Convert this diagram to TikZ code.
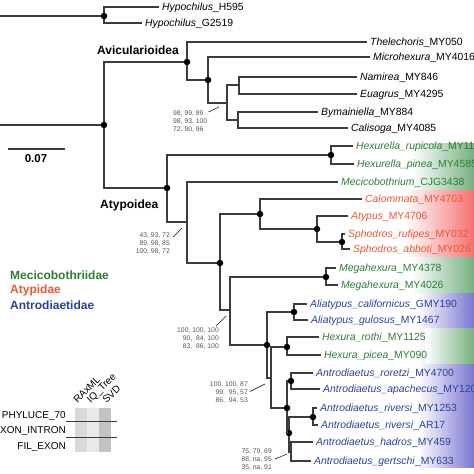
\documentclass[tikz,border=0pt]{standalone}
\usepackage{fontspec}
\setmainfont{Liberation Sans}
\usepackage{tikz}
\usetikzlibrary{positioning}
\definecolor{linegray}{RGB}{60,60,60}
\definecolor{supgray}{RGB}{85,85,85}
\definecolor{mecgreen}{RGB}{45,125,55}
\definecolor{atyred}{RGB}{232,88,52}
\definecolor{antblue}{RGB}{40,65,155}
\definecolor{bandgreen}{RGB}{118,176,128}
\definecolor{bandred}{RGB}{246,112,112}
\definecolor{bandblue}{RGB}{122,118,208}
\newcommand{\taxon}[2]{\textit{#1}\_#2}

\tikzset{
	branch/.style={draw=linegray, line width=1.1pt},
	pointer/.style={draw=linegray, line width=0.7pt},
	supnode/.style={circle, fill=black, inner sep=0pt, minimum size=6.5pt},
	leaf/.style={anchor=west, inner xsep=3pt, inner ysep=0pt, text height=7.4pt, text depth=0pt, font=\fontsize{10.4}{12}\selectfont},
	leafG/.style={leaf, text=mecgreen},
	leafR/.style={leaf, text=atyred},
	leafB/.style={leaf, text=antblue},
	support/.style={align=right, anchor=north east, inner sep=0pt, text=supgray, font=\fontsize{6.8}{8}\selectfont},
	clade/.style={anchor=west, inner sep=0pt, text height=8.6pt, text depth=0pt, font=\fontsize{12}{14}\selectfont\bfseries},
	band/.style={left color=white, right color=#1},
	dataset/.style={anchor=east, inner sep=0pt, text height=7.2pt, text depth=0pt, font=\fontsize{10}{12}\selectfont},
	method/.style={rotate=45, anchor=west, inner sep=0pt, font=\fontsize{10}{12}\selectfont},
}

\begin{document}
\begin{tikzpicture}[x=1pt, y=-1pt]
	\useasboundingbox (0,0) rectangle (474,474);

	\shade[band=bandgreen] (412,143) rectangle (474,190);
	\shade[band=bandred] (405,190) rectangle (474,257);
	\shade[band=bandgreen] (412,257) rectangle (474,293);
	\shade[band=bandblue] (418,293) rectangle (474,467);
	\shade[band=bandgreen] (425,328) rectangle (474,363);

	\coordinate (rootA) at (0,16);
	\coordinate (rootB) at (0,125);
	\node[supnode] (nHyp) at (104,16) {};
	\node[supnode] (nMain) at (104,125) {};
	\node[supnode] (nAvic) at (187,62) {};
	\node[supnode] (nMic) at (208,80) {};
	\coordinate (nNE) at (227,103);
	\coordinate (nNam) at (239,85);
	\coordinate (nByCa) at (238,120);
	\node[supnode] (nAty) at (167,188) {};
	\node[supnode] (nHexl) at (331,155) {};
	\coordinate (nMec) at (187,222);
	\node[supnode] (nRest) at (220,263) {};
	\node[supnode] (nAtyp) at (260,214) {};
	\node[supnode] (nAtSp) at (317,229) {};
	\node[supnode] (nSph) at (342,242) {};
	\coordinate (nAnt) at (230,310);
	\node[supnode] (nMega) at (326,277) {};
	\node[supnode] (nCore) at (267,345) {};
	\node[supnode] (nAli) at (294,312) {};
	\coordinate (nHexAnt) at (271,378);
	\node[supnode] (nHex) at (287,347) {};
	\node[supnode] (nAntr) at (287,408) {};
	\node[supnode] (nRor) at (291,381) {};
	\node[supnode] (nLow) at (289,433) {};
	\node[supnode] (nRiv) at (313,417) {};
	\coordinate (nHadG) at (291,452);

	\node[leaf] (tH595) at (159,7) {\taxon{Hypochilus}{H595}};
	\node[leaf] (tG2519) at (142,23) {\taxon{Hypochilus}{G2519}};
	\node[leaf] (tThel) at (367,42) {\taxon{Thelechoris}{MY050}};
	\node[leaf] (tMicr) at (370,57) {\taxon{Microhexura}{MY4016}};
	\node[leaf] (tNam) at (357,77) {\taxon{Namirea}{MY846}};
	\node[leaf] (tEua) at (357,94) {\taxon{Euagrus}{MY4295}};
	\node[leaf] (tBym) at (318,112) {\taxon{Bymainiella}{MY884}};
	\node[leaf] (tCal) at (348,128) {\taxon{Calisoga}{MY4085}};
	\node[leafG] (tHrup) at (353,146) {\taxon{Hexurella\_rupicola}{MY11}};
	\node[leafG] (tHpin) at (354,164) {\taxon{Hexurella\_pinea}{MY4585}};
	\node[leafG] (tMec) at (338,182) {\taxon{Mecicobothrium}{CJG3438}};
	\node[leafR] (tClm) at (362,199) {\taxon{Calommata}{MY4703}};
	\node[leafR] (tAtp) at (348,216) {\taxon{Atypus}{MY4706}};
	\node[leafR] (tSru) at (345,234) {\taxon{Sphodros\_rufipes}{MY032}};
	\node[leafR] (tSab) at (350,249) {\taxon{Sphodros\_abboti}{MY026}};
	\node[leafG] (tMg1) at (336,268) {\taxon{Megahexura}{MY4378}};
	\node[leafG] (tMg2) at (338,285) {\taxon{Megahexura}{MY4026}};
	\node[leafB] (tAca) at (307,304) {\taxon{Aliatypus\_californicus}{GMY190}};
	\node[leafB] (tAgu) at (308,320) {\taxon{Aliatypus\_gulosus}{MY1467}};
	\node[leafG] (tHro) at (319,337) {\taxon{Hexura\_rothi}{MY1125}};
	\node[leafG] (tHpi) at (321,355) {\taxon{Hexura\_picea}{MY090}};
	\node[leafB] (tRor) at (313,373) {\taxon{Antrodiaetus\_roretzi}{MY4700}};
	\node[leafB] (tApa) at (320,389) {\taxon{Antrodiaetus\_apachecus}{MY120}};
	\node[leafB] (tRv1) at (317,408) {\taxon{Antrodiaetus\_riversi}{MY1253}};
	\node[leafB] (tRv2) at (318,425) {\taxon{Antrodiaetus\_riversi}{AR17}};
	\node[leafB] (tHad) at (313,442) {\taxon{Antrodiaetus\_hadros}{MY459}};
	\node[leafB] (tGer) at (311,461) {\taxon{Antrodiaetus\_gertschi}{MY633}};

	\draw[branch] (rootA) -- (nHyp);
	\draw[branch] (rootB) -- (nMain);
	\draw[branch] (nHyp) |- (tH595) (nHyp) |- (tG2519);
	\draw[branch] (nMain) |- (nAvic) (nMain) |- (nAty);
	\draw[branch] (nAvic) |- (tThel) (nAvic) |- (nMic);
	\draw[branch] (nMic) |- (tMicr) (nMic) |- (nNE);
	\draw[branch] (nNE) |- (nNam) (nNE) |- (nByCa);
	\draw[branch] (nNam) |- (tNam) (nNam) |- (tEua);
	\draw[branch] (nByCa) |- (tBym) (nByCa) |- (tCal);
	\draw[branch] (nAty) |- (nHexl) (nAty) |- (nMec);
	\draw[branch] (nHexl) |- (tHrup) (nHexl) |- (tHpin);
	\draw[branch] (nMec) |- (tMec) (nMec) |- (nRest);
	\draw[branch] (nRest) |- (nAtyp) (nRest) |- (nAnt);
	\draw[branch] (nAtyp) |- (tClm) (nAtyp) |- (nAtSp);
	\draw[branch] (nAtSp) |- (tAtp) (nAtSp) |- (nSph);
	\draw[branch] (nSph) |- (tSru) (nSph) |- (tSab);
	\draw[branch] (nAnt) |- (nMega) (nAnt) |- (nCore);
	\draw[branch] (nMega) |- (tMg1) (nMega) |- (tMg2);
	\draw[branch] (nCore) |- (nAli) (nCore) |- (nHexAnt);
	\draw[branch] (nAli) |- (tAca) (nAli) |- (tAgu);
	\draw[branch] (nHexAnt) |- (nHex) (nHexAnt) |- (nAntr);
	\draw[branch] (nHex) |- (tHro) (nHex) |- (tHpi);
	\draw[branch] (nAntr) |- (nRor) (nAntr) |- (nLow);
	\draw[branch] (nRor) |- (tRor) (nRor) |- (tApa);
	\draw[branch] (nLow) |- (nRiv) (nLow) |- (nHadG);
	\draw[branch] (nRiv) |- (tRv1) (nRiv) |- (tRv2);
	\draw[branch] (nHadG) |- (tHad) (nHadG) |- (tGer);

	\node[support, align=left, anchor=north west] (sNE) at (173,110.5) {98, 99, 89\\98, 93, 100\\72, 90, 96};
	\coordinate (sNEp) at (219,107);
	\draw[pointer] ([xshift=1pt,yshift=-1.5pt]sNE.north east) -- (sNEp);
	\node[support] (sMec) at (170,232.5) {43, 93, 72\\89, 98, 85\\100, 98, 72};
	\coordinate (sMecp) at (182,228);
	\draw[pointer] ([xshift=3pt,yshift=-4.5pt]sMec.north east) -- (sMecp);
	\node[support] (sAnt) at (219,327.5) {100, 100, 100\\90, \ 84, 100\\83, \ 86, 100};
	\coordinate (sAntp) at (226,316);
	\draw[pointer] ([xshift=-3pt,yshift=1.5pt]sAnt.north east) -- (sAntp);
	\node[support] (sHexAnt) at (248,381.5) {100, 100, 87\\99, \ 95, 57\\86, \ 94, 53};
	\coordinate (sHexAntp) at (265,384);
	\draw[pointer] ([xshift=2pt,yshift=-10pt]sHexAnt.north east) -- (sHexAntp);
	\node[support] (sHadG) at (272,448.5) {75, 79, 69\\88, na, 95\\35, na, 91};
	\coordinate (sHadGp) at (287,454);
	\draw[pointer] ([xshift=3pt,yshift=-10.5pt]sHadG.north east) -- (sHadGp);

	\node[clade] (lAvic) at (97,50) {Avicularioidea};
	\node[clade] (lAty) at (100,204) {Atypoidea};

	\coordinate (sbL) at (8,149);
	\coordinate (sbR) at (65,149);
	\draw[branch] (sbL) -- (sbR);
	\node[clade, anchor=center, font=\fontsize{11.5}{14}\selectfont\bfseries] (sbLab) at (36,158) {0.07};

	\node[clade, text=mecgreen] (fMec) at (10,275) {Mecicobothriidae};
	\node[clade, text=atyred] (fAty) at (10,289) {Atypidae};
	\node[clade, text=antblue] (fAnt) at (10,305) {Antrodiaetidae};

	\fill[gray!30] (75,408) rectangle (87,452);
	\fill[gray!17] (87,408) rectangle (99,452);
	\fill[gray!47] (99,408) rectangle (111,452);
	\draw[linegray, line width=0.9pt] (66,421) -- (117,421);
	\draw[linegray, line width=0.9pt] (66,437) -- (117,437);
	\node[method] (mRax) at (75,401.5) {RAxML};
	\node[method] (mIQ) at (89,401.5) {IQ\_Tree};
	\node[method] (mSVD) at (104,401.5) {SVD};
	\node[dataset] (dPhy) at (66,415) {PHYLUCE\_70};
	\node[dataset] (dExo) at (66,430) {EXON\_INTRON};
	\node[dataset] (dFil) at (66,446) {FIL\_EXON};
\end{tikzpicture}
\end{document}
